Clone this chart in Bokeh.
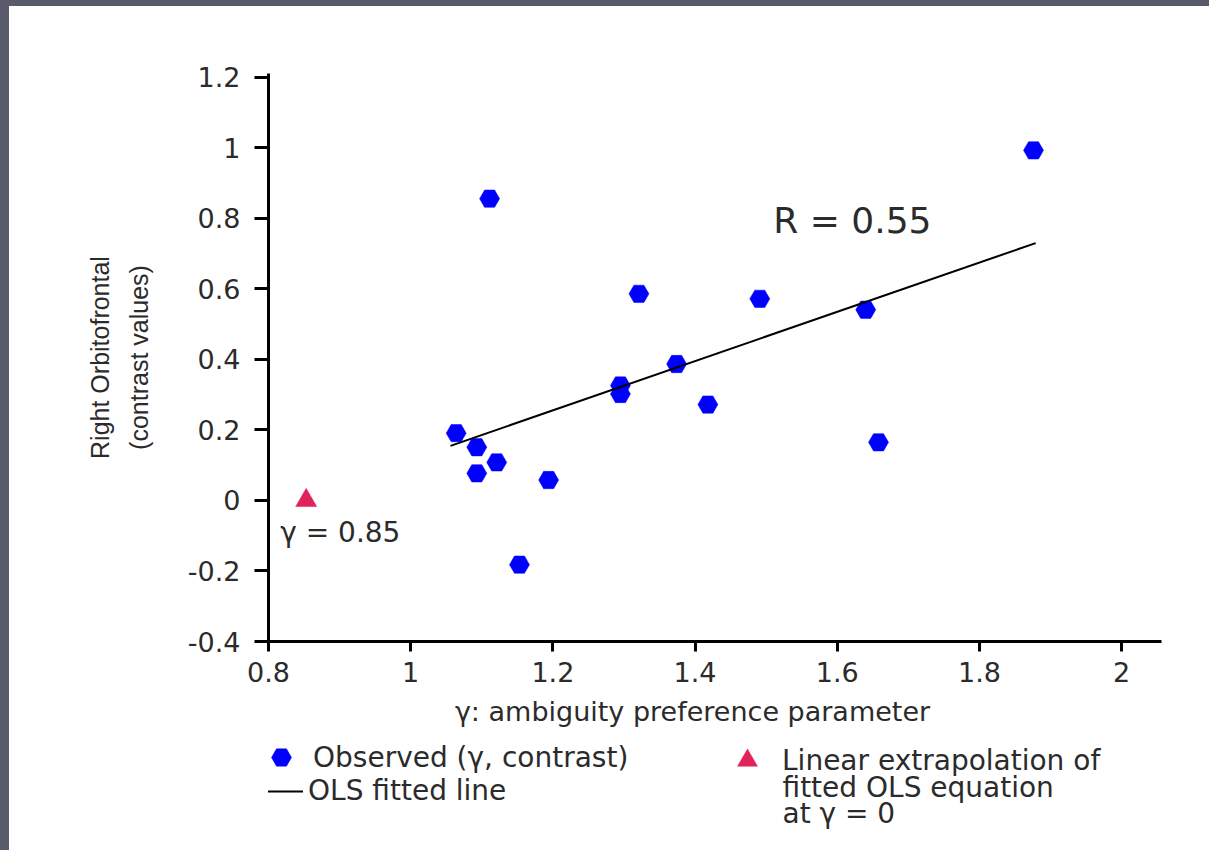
from bokeh.plotting import figure
from bokeh.layouts import column
from bokeh.models import Range1d, FixedTicker, Label, Legend, LegendItem
from bokeh.embed import file_html
from bokeh.resources import INLINE

# ---- data ----
gamma = [1.876, 1.111, 1.321, 1.491, 1.640, 1.374, 1.295, 1.295,
         1.418, 1.064, 1.093, 1.658, 1.121, 1.093, 1.194, 1.153]
contrast = [0.993, 0.856, 0.586, 0.572, 0.541, 0.387, 0.326, 0.302,
            0.272, 0.191, 0.151, 0.165, 0.108, 0.077, 0.058, -0.182]
fit_gamma = [1.056, 1.879]
fit_contrast = [0.155, 0.730]
extrap_gamma = [0.853]
extrap_contrast = [0.0]

x_ticks = [0.8, 1, 1.2, 1.4, 1.6, 1.8, 2]
x_tick_labels = ["0.8", "1", "1.2", "1.4", "1.6", "1.8", "2"]
y_ticks = [-0.4, -0.2, 0, 0.2, 0.4, 0.6, 0.8, 1, 1.2]
y_tick_labels = ["-0.4", "-0.2", "0", "0.2", "0.4", "0.6", "0.8", "1", "1.2"]

r_text = "R = 0.55"
gamma0_text = "γ = 0.85"
x_label = "γ: ambiguity preference parameter"
y_label = "Right Orbitofrontal\n(contrast values)"
legend_observed = "Observed (γ, contrast)"
legend_ols = "OLS fitted line"
legend_extrap = ["Linear extrapolation of", "fitted OLS equation", "at γ = 0"]

FONT = "DejaVu Sans"
TXT = "#2b2b2b"
BLUE = "#0000FF"
RED = "#E0245A"
SLIDE = "#585b6c"
EDGE_L, EDGE_T = 9, 6          # slide-frame strip on the left and top
W = 1200
LEFT, RIGHT = 268 - EDGE_L, 48
LEG_FS = "28px"

# ---------------- main chart ----------------
p = figure(width=W, height=694 - EDGE_T, title=None,
           x_range=Range1d(0.8, 2.056), y_range=Range1d(-0.4, 1.211),
           output_backend="svg", toolbar_location=None,
           min_border_left=LEFT, min_border_right=RIGHT,
           min_border_top=73 - EDGE_T, min_border_bottom=53)
p.xgrid.visible = False
p.ygrid.visible = False
p.outline_line_color = None

xa = p.xaxis[0]
ya = p.yaxis[0]
xa.ticker = FixedTicker(ticks=x_ticks)
ya.ticker = FixedTicker(ticks=y_ticks)
xa.major_label_overrides = dict(zip(x_ticks, x_tick_labels))
ya.major_label_overrides = dict(zip(y_ticks, y_tick_labels))
for ax in (xa, ya):
    ax.axis_line_width = 3
    ax.axis_line_color = "black"
    ax.major_tick_line_width = 3
    ax.major_tick_line_color = "black"
    ax.major_tick_in = 0
    ax.minor_tick_line_color = None
    ax.major_label_text_font = FONT
    ax.major_label_text_font_size = "27px"
    ax.major_label_text_color = TXT
xa.major_tick_out = 10
ya.major_tick_out = 14
xa.major_label_standoff = 10
ya.major_label_standoff = 14

ya.axis_label = y_label
ya.axis_label_text_font = "Liberation Sans"
ya.axis_label_text_font_size = "25px"
ya.axis_label_text_font_style = "normal"
ya.axis_label_text_color = TXT
ya.axis_label_text_line_height = 1.4
ya.axis_label_standoff = 32

obs_r = p.scatter(gamma, contrast, marker="hex", size=20,
                  fill_color=BLUE, line_color=BLUE, line_width=0.5)
ols_r = p.line(fit_gamma, fit_contrast, line_color="black", line_width=2)
tri_r = p.scatter(extrap_gamma, extrap_contrast, marker="triangle", size=21,
                  fill_color=RED, line_color=RED, line_width=0.5)

p.add_layout(Label(x=1.510, y=0.795, text=r_text, text_font=FONT,
                   text_font_size="36px", text_color=TXT,
                   text_baseline="middle"))
p.add_layout(Label(x=0.8165, y=-0.090, text=gamma0_text, text_font=FONT,
                   text_font_size="28px", text_color=TXT,
                   text_baseline="middle"))

# ---------------- axis title + legend strip ----------------
H2 = 156
p2 = figure(width=W, height=H2, title=None,
            x_range=Range1d(0, 1), y_range=Range1d(0, 1),
            output_backend="svg", toolbar_location=None,
            x_axis_location=None, y_axis_location=None,
            min_border_left=LEFT, min_border_right=RIGHT,
            min_border_top=0, min_border_bottom=0)
p2.outline_line_color = None
p2.xgrid.visible = False
p2.ygrid.visible = False

# legend swatches only (a single NaN point, never drawn in the strip)
nan = [float("nan")]
obs_proxy = p2.scatter(nan, nan, marker="hex", fill_color=BLUE,
                       line_color=BLUE, line_width=0.5)
ols_proxy = p2.line(nan, nan, line_color="black", line_width=2)
tri_proxy = p2.scatter(nan, nan, marker="triangle", fill_color=RED,
                       line_color=RED, line_width=0.5)

p2.add_layout(Label(x=424, y=139, x_units="screen", y_units="screen",
                    text=x_label, text_font=FONT, text_font_size="27px",
                    text_color=TXT, text_align="center",
                    text_baseline="middle"))


def make_legend(item, loc, gw, gh, standoff):
    lg = Legend(items=[item], location=loc, orientation="vertical",
                glyph_width=gw, glyph_height=gh, label_standoff=standoff,
                spacing=0, padding=0, margin=0,
                border_line_color=None, background_fill_alpha=0,
                label_text_font=FONT, label_text_font_size=LEG_FS,
                label_text_color=TXT, label_height=gh)
    p2.add_layout(lg, "center")


make_legend(LegendItem(label=legend_observed, renderers=[obs_proxy]),
            (-12, 68), 50, 50, 7)
make_legend(LegendItem(label=legend_ols, renderers=[ols_proxy]),
            (-18, 43), 53, 30, 5)
make_legend(LegendItem(label=legend_extrap[0], renderers=[tri_proxy]),
            (454, 65), 50, 50, 10)
p2.add_layout(Label(x=514, y=63, x_units="screen", y_units="screen",
                    text=legend_extrap[1], text_font=FONT,
                    text_font_size=LEG_FS, text_color=TXT,
                    text_baseline="middle"))
p2.add_layout(Label(x=514, y=37, x_units="screen", y_units="screen",
                    text=legend_extrap[2], text_font=FONT,
                    text_font_size=LEG_FS, text_color=TXT,
                    text_baseline="middle"))

layout = column(p, p2, spacing=0,
                styles={"border-left": f"{EDGE_L}px solid {SLIDE}",
                        "border-top": f"{EDGE_T}px solid {SLIDE}"})
open("out.html", "w").write(file_html(layout, INLINE))
